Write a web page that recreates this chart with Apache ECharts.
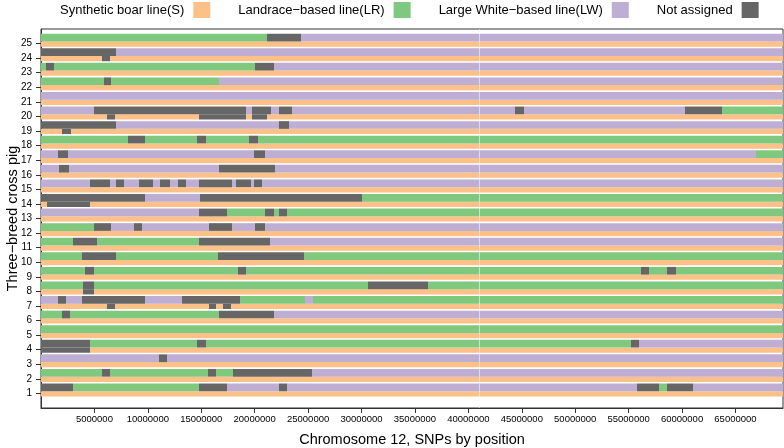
<!DOCTYPE html>
<html><head><meta charset="utf-8">
<script src="https://cdn.jsdelivr.net/npm/echarts@6/dist/echarts.min.js"></script>
<style>html,body{margin:0;padding:0;background:#fff}#c{width:784px;height:448px}</style>
</head><body><div id="c"></div>
<script>
// ---- data (positions in Mb along chromosome 12) ----
const chromosomeEnd = 69.45;
const pigIds = [1,2,3,4,5,6,7,8,9,10,11,12,13,14,15,16,17,18,19,20,21,22,23,24,25];
const categoryCodes = ['S','LR','LW','NA'];
const categoryNames = ['Synthetic boar line(S)','Landrace\u2212based line(LR)','Large White\u2212based line(LW)','Not assigned'];
const categoryColors = ['#FDC086','#7FC97F','#BEAED4','#666666'];
const xTickValues = [5e6,10e6,15e6,20e6,25e6,30e6,35e6,40e6,45e6,50e6,55e6,60e6,65e6];
const yTickValues = [1,2,3,4,5,6,7,8,9,10,11,12,13,14,15,16,17,18,19,20,21,22,23,24,25];
// Each row: category, breakpoint, category, breakpoint, ..., category (to chromosome end)
const upperHaplotypes = [
  ['NA',2.95,'LR',14.8,'NA',17.4,'LW',22.25,'NA',23.0,'LW',55.8,'NA',57.8,'LR',58.6,'NA',61.0,'LW'],
  ['LR',5.7,'NA',6.45,'LR',15.6,'NA',16.35,'LR',17.95,'NA',25.4,'LW'],
  ['LW',11.0,'NA',11.8,'LW'],
  ['NA',4.55,'LR',14.6,'NA',15.4,'LR',55.2,'NA',56.0,'LW'],
  ['LR'],
  ['LR',2.0,'NA',2.75,'LR',16.7,'NA',21.85,'LW'],
  ['LW',1.6,'NA',2.35,'LW',3.85,'NA',9.75,'LW',13.2,'NA',18.65,'LR',24.7,'LW',25.45,'LR'],
  ['LR',3.9,'NA',5.0,'LR',30.6,'NA',36.2,'LR'],
  ['LR',4.1,'NA',5.0,'LR',18.4,'NA',19.2,'LR',56.2,'NA',56.95,'LR',58.6,'NA',59.45,'LR'],
  ['LR',3.85,'NA',7.0,'LR',16.6,'NA',24.6,'LR'],
  ['LR',2.95,'NA',5.2,'LR',14.8,'NA',21.4,'LW'],
  ['LR',5.0,'NA',6.55,'LW',8.75,'NA',9.5,'LW',15.7,'NA',17.9,'LW',20.0,'NA',20.95,'LW'],
  ['LW',14.8,'NA',17.4,'LR',21.0,'NA',21.8,'LR',22.3,'NA',23.05,'LR'],
  ['NA',9.75,'LW',14.9,'NA',30.05,'LR'],
  ['LW',4.55,'NA',6.45,'LW',7.0,'NA',7.8,'LW',9.2,'NA',10.5,'LW',11.1,'NA',12.05,'LW',12.85,'NA',13.6,'LW',14.8,'NA',17.9,'LW',18.25,'NA',19.7,'LW',19.9,'NA',20.7,'LW'],
  ['LW',1.7,'NA',2.65,'LW',16.7,'NA',21.9,'LW'],
  ['LW',1.6,'NA',2.55,'LW',19.9,'NA',21.0,'LW',66.9,'LR'],
  ['LR',8.1,'NA',9.7,'LR',14.6,'NA',15.4,'LR',19.5,'NA',20.3,'LR'],
  ['NA',7.0,'LW',22.3,'NA',23.2,'LW'],
  ['LW',5.0,'NA',19.15,'LW',19.75,'NA',21.5,'LW',22.3,'NA',23.5,'LW',44.4,'NA',45.2,'LW',60.3,'NA',63.7,'LR'],
  ['LW'],
  ['LR',5.85,'NA',6.55,'LR',16.65,'LW'],
  ['LR',0.5,'NA',1.2,'LR',20.0,'NA',21.8,'LW'],
  ['NA',7.0,'LW'],
  ['LR',21.2,'NA',24.3,'LW']
];
const lowerHaplotypes = [
  ['S'],
  ['S'],
  ['S'],
  ['NA',4.55,'S'],
  ['S'],
  ['S'],
  ['S',6.2,'NA',6.95,'S',15.7,'NA',16.4,'S',17.05,'NA',17.8,'S'],
  ['S',3.9,'NA',5.0,'S'],
  ['S'],
  ['S'],
  ['S'],
  ['S'],
  ['S'],
  ['S',0.55,'NA',4.55,'S'],
  ['S'],
  ['S'],
  ['S'],
  ['S'],
  ['S',2.0,'NA',2.85,'S'],
  ['S',6.15,'NA',6.95,'S',14.8,'NA',19.15,'S',19.75,'NA',21.2,'S'],
  ['S'],
  ['S'],
  ['S'],
  ['S',5.7,'NA',6.5,'S'],
  ['S']
];
const seamPosition = 41.05;

// ---- build ----
const FONT = '"Liberation Sans", Arial, sans-serif';
function toSegments(seq) {
  const out = []; let start = 0;
  for (let k = 0; k < seq.length; k += 2) {
    const end = (k + 1 < seq.length) ? seq[k + 1] : chromosomeEnd;
    out.push([start, end, seq[k]]); start = end;
  }
  return out;
}
const seriesData = {}; categoryCodes.forEach(c => seriesData[c] = []);
pigIds.forEach((pig, i) => {
  toSegments(lowerHaplotypes[i]).forEach(s => seriesData[s[2]].push([s[0]*1e6, s[1]*1e6, pig, 0]));
  toSegments(upperHaplotypes[i]).forEach(s => seriesData[s[2]].push([s[0]*1e6, s[1]*1e6, pig, 1]));
});
function renderItem(params, api) {
  const s = api.value(0), e = api.value(1), y = api.value(2), r = api.value(3);
  const y0 = r ? y + 0.15 : y - 0.21, y1 = r ? y + 0.68 : y + 0.15;
  const p0 = api.coord([s, y1]), p1 = api.coord([e, y0]);
  const x0 = Math.round(p0[0]), x1 = Math.round(p1[0]);
  return { type: 'rect', shape: { x: x0, y: p0[1], width: x1 - x0, height: p1[1] - p0[1] },
           style: { fill: api.visual('color') } };
}
const series = categoryCodes.map((c, i) => {
  const s = {
    type: 'custom', name: categoryNames[i], renderItem: renderItem,
    itemStyle: { color: categoryColors[i] }, encode: { x: [0, 1], y: 2 },
    data: seriesData[c], clip: true
  };
  if (i === 3) {
    s.markLine = { silent: true, symbol: 'none', label: { show: false },
      lineStyle: { color: 'rgba(255,255,255,0.55)', width: 1, type: 'solid' },
      data: [{ xAxis: seamPosition * 1e6 }] };
  }
  return s;
});
const chart = echarts.init(document.getElementById('c'), null, { renderer: 'canvas' });
chart.setOption({
  animation: false,
  color: categoryColors,
  textStyle: { fontFamily: FONT },
  legend: {
    data: categoryNames, left: 60, top: 2, padding: 0, itemGap: 28, align: 'right',
    itemWidth: 17, itemHeight: 16, icon: 'rect',
    textStyle: { fontSize: 13, fontFamily: FONT, color: '#000', padding: [0, 4, 0, 0] }
  },
  grid: { left: 41, right: 1, top: 29, bottom: 40, show: true, borderColor: '#333', borderWidth: 1,
          backgroundColor: 'transparent', containLabel: false, outerBoundsMode: 'none' },
  xAxis: {
    type: 'value', min: 0, max: chromosomeEnd * 1e6,
    name: 'Chromosome 12, SNPs by position', nameLocation: 'middle', nameGap: 24, nameMoveOverlap: false,
    nameTextStyle: { fontSize: 14.5, fontFamily: FONT, color: '#000' },
    axisLine: { show: true, lineStyle: { color: '#333' } },
    axisTick: { show: true, customValues: xTickValues, length: 5, lineStyle: { color: '#333' } },
    axisLabel: { customValues: xTickValues, fontSize: 9.5, margin: 6, color: '#000', fontFamily: FONT,
                 formatter: v => String(Math.round(v)) },
    splitLine: { show: false }
  },
  yAxis: {
    type: 'value', min: 0, max: 26,
    name: 'Three\u2212breed cross pig', nameLocation: 'middle', nameGap: 21, nameRotate: 90, nameMoveOverlap: false,
    nameTextStyle: { fontSize: 14.5, fontFamily: FONT, color: '#000' },
    axisLine: { show: true, lineStyle: { color: '#333' } },
    axisTick: { show: true, customValues: yTickValues, length: 5, lineStyle: { color: '#333' } },
    axisLabel: { customValues: yTickValues, fontSize: 10, margin: 9, color: '#000', fontFamily: FONT },
    splitLine: { show: false }
  },
  series: series
});
</script></body></html>
